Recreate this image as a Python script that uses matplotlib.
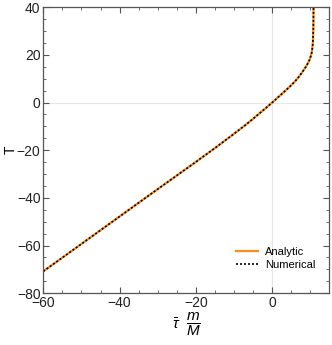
import matplotlib
matplotlib.use("Agg")
import matplotlib.pyplot as plt
from matplotlib.ticker import MultipleLocator

plt.rcParams['font.family'] = ['Liberation Sans', 'DejaVu Sans']
plt.rcParams['mathtext.fontset'] = 'custom'
plt.rcParams['mathtext.rm'] = 'Liberation Sans'
plt.rcParams['mathtext.it'] = 'Liberation Sans:italic'

tau = [-60, -50, -40, -30, -20, -15, -10, -7, -5, -3, -1, 0, 1, 2, 3.5, 4.8,
       6, 7, 8, 8.8, 9.3, 9.8, 10.1, 10.35, 10.5, 10.62, 10.7, 10.76, 10.8,
       10.83, 10.85]
T = [-70.8, -59.3, -47.8, -36.3, -24.9, -19.1, -13.1, -9.4, -6.8, -4.1, -1.4,
     0, 1.42, 2.87, 5.05, 6.95, 8.9, 10.8, 13.0, 14.9, 16.3, 17.9, 19.3,
     20.8, 22.3, 24.0, 26.0, 28.5, 31.0, 35.0, 40.0]

fig = plt.figure(figsize=(3.32, 3.45), dpi=100)
ax = fig.add_axes([0.1305, 0.150, 0.8615, 0.829])

ax.axhline(0, color='#e6e6e6', lw=0.8, zorder=0)
ax.axvline(0, color='#e6e6e6', lw=0.8, zorder=0)

ax.plot(tau, T, color='#ff8c1a', lw=1.6, label='Analytic')
ax.plot(tau, T, color='black', lw=1.2, ls=(0, (1.2, 1.2)), label='Numerical')

ax.set_xlim(-60, 15)
ax.set_ylim(-80, 40)
ax.xaxis.set_major_locator(MultipleLocator(20))
ax.xaxis.set_minor_locator(MultipleLocator(5))
ax.yaxis.set_major_locator(MultipleLocator(20))
ax.yaxis.set_minor_locator(MultipleLocator(5))
ax.tick_params(which='both', direction='in', top=True, right=True,
               color='#555555', labelsize=10, labelcolor='#222222', pad=2)
ax.tick_params(which='major', length=4, width=0.8)
ax.tick_params(which='minor', length=2.5, width=0.6)
for s in ax.spines.values():
    s.set_color('#555555')
    s.set_linewidth(0.9)

ax.set_ylabel('T', fontsize=10)
ax.yaxis.set_label_coords(-0.09, 0.5)
ax.set_xlabel(r'$\bar{\tau}\ \ \dfrac{m}{M}$', fontsize=11, labelpad=1)

leg = ax.legend(loc='lower right', frameon=False, fontsize=8,
                handlelength=2.0, handletextpad=0.6, labelspacing=0.3,
                bbox_to_anchor=(0.985, 0.045))

fig.savefig('out.png', dpi=100)
